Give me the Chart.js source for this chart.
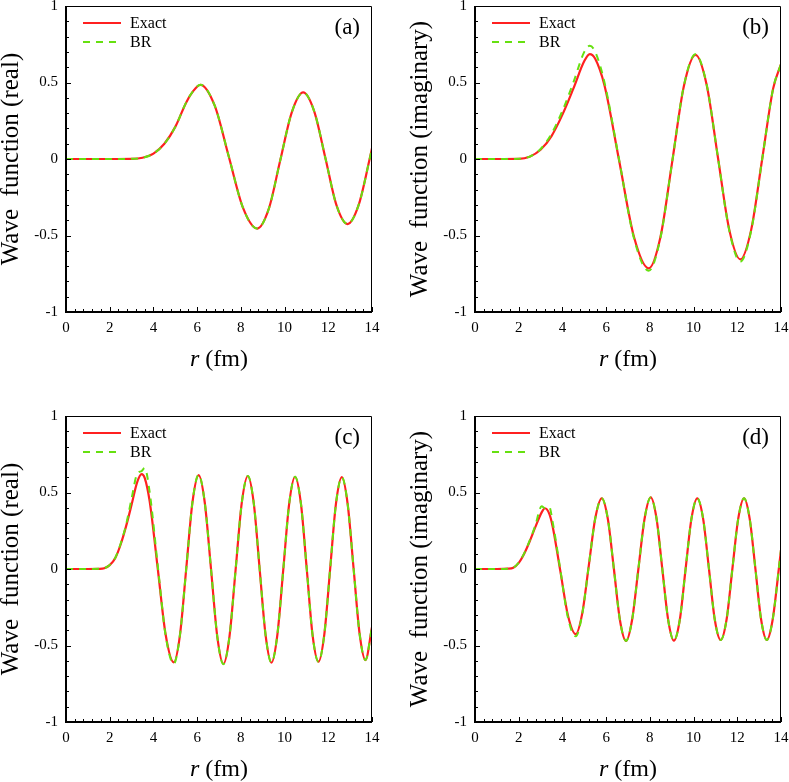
<!DOCTYPE html>
<html>
<head>
<meta charset="utf-8">
<script src="https://cdn.jsdelivr.net/npm/chart.js@4.4.1/dist/chart.umd.min.js"></script>
<style>
  body { margin: 0; background: #fff; width: 789px; height: 782px; position: relative; overflow: hidden; }
  .panel { position: absolute; width: 380px; height: 372px; }
</style>
</head>
<body>
<div class="panel" style="left:0;top:0"><canvas id="pa"></canvas></div>
<div class="panel" style="left:409px;top:0"><canvas id="pb"></canvas></div>
<div class="panel" style="left:0;top:410px"><canvas id="pc"></canvas></div>
<div class="panel" style="left:409px;top:410px"><canvas id="pd"></canvas></div>
<script>
// axis ticks
const xTicks = [0, 2, 4, 6, 8, 10, 12, 14];
const xTickLabels = ['0', '2', '4', '6', '8', '10', '12', '14'];
const yTicks = [-1, -0.5, 0, 0.5, 1];
const yTickLabels = ['-1', '-0.5', '0', '0.5', '1'];

// (a) real part, lower energy
const rA = [0, 1, 2, 3, 3.5, 4, 4.5, 5, 5.5, 5.8, 6.15, 6.8, 7.45, 8.1, 8.75, 9.28, 9.8, 10.33, 10.85, 11.36, 11.87, 12.37, 12.88, 13.39, 13.9, 14];
const exactA = [0, 0, 0, 0.001, 0.008, 0.035, 0.10, 0.21, 0.37, 0.44, 0.485, 0.35, 0.015, -0.32, -0.455, -0.325, -0.01, 0.305, 0.435, 0.31, 0.005, -0.30, -0.425, -0.30, 0.005, 0.07];
const brA = [0, 0, 0, 0.001, 0.008, 0.035, 0.10, 0.21, 0.37, 0.44, 0.485, 0.35, 0.015, -0.32, -0.455, -0.325, -0.01, 0.305, 0.435, 0.31, 0.005, -0.30, -0.425, -0.30, 0.005, 0.07];

// (b) imaginary part, lower energy
const rB = [0, 1, 2, 2.5, 3, 3.5, 4, 4.5, 5, 5.25, 5.5, 5.925, 6.6, 7.275, 7.95, 8.485, 9.02, 9.555, 10.09, 10.6, 11.115, 11.63, 12.14, 12.64, 13.14, 13.64, 14];
const exactB = [0, 0, 0.001, 0.015, 0.06, 0.15, 0.29, 0.46, 0.64, 0.686, 0.655, 0.48, -0.015, -0.51, -0.715, -0.51, -0.02, 0.475, 0.68, 0.484, 0.01, -0.46, -0.656, -0.46, 0.0, 0.46, 0.62];
const brB = [0, 0, 0.001, 0.016, 0.065, 0.165, 0.315, 0.50, 0.70, 0.74, 0.70, 0.50, -0.01, -0.52, -0.73, -0.515, -0.02, 0.478, 0.685, 0.486, 0.01, -0.465, -0.67, -0.465, 0.0, 0.46, 0.62];

// (c) real part, higher energy
const rC = [0, 1, 1.5, 1.75, 2, 2.25, 2.5, 2.75, 3, 3.25, 3.46, 3.6, 3.83, 4.2, 4.56, 4.93, 5.215, 5.5, 5.785, 6.07, 6.35, 6.635, 6.92, 7.2, 7.48, 7.76, 8.04, 8.32, 8.59, 8.86, 9.13, 9.4, 9.67, 9.94, 10.21, 10.48, 10.75, 11.015, 11.28, 11.55, 11.82, 12.085, 12.35, 12.62, 12.89, 13.16, 13.43, 13.7, 14];
const exactC = [0, 0, 0.001, 0.005, 0.025, 0.07, 0.16, 0.28, 0.42, 0.565, 0.62, 0.595, 0.44, 0.0, -0.43, -0.61, -0.43, 0.0, 0.435, 0.614, 0.433, 0.0, -0.44, -0.62, -0.44, -0.005, 0.43, 0.608, 0.43, 0.0, -0.43, -0.612, -0.43, -0.005, 0.425, 0.603, 0.425, 0.0, -0.43, -0.606, -0.425, 0.0, 0.425, 0.60, 0.42, 0.0, -0.42, -0.595, -0.38];
const brC = [0, 0, 0.001, 0.005, 0.026, 0.072, 0.165, 0.29, 0.46, 0.62, 0.64, 0.66, 0.50, 0.02, -0.435, -0.62, -0.43, 0.0, 0.435, 0.616, 0.433, 0.0, -0.44, -0.622, -0.44, -0.005, 0.43, 0.608, 0.43, 0.0, -0.43, -0.612, -0.43, -0.005, 0.425, 0.603, 0.425, 0.0, -0.43, -0.606, -0.425, 0.0, 0.425, 0.60, 0.42, 0.0, -0.42, -0.595, -0.38];

// (d) imaginary part, higher energy
const rD = [0, 1, 1.5, 1.75, 2, 2.25, 2.5, 2.75, 3.05, 3.2, 3.4, 3.55, 3.905, 4.255, 4.61, 4.9, 5.205, 5.5, 5.8, 6.08, 6.355, 6.63, 6.91, 7.19, 7.475, 7.76, 8.04, 8.305, 8.57, 8.835, 9.1, 9.37, 9.635, 9.9, 10.17, 10.44, 10.705, 10.97, 11.24, 11.51, 11.775, 12.04, 12.31, 12.57, 12.83, 13.09, 13.35, 13.62, 13.9, 14];
const exactD = [0, 0, 0.002, 0.008, 0.04, 0.10, 0.18, 0.27, 0.37, 0.397, 0.36, 0.28, -0.014, -0.305, -0.425, -0.295, 0.02, 0.33, 0.462, 0.325, 0.0, -0.333, -0.47, -0.33, 0.0, 0.33, 0.468, 0.33, 0.0, -0.33, -0.468, -0.332, 0.0, 0.326, 0.462, 0.326, 0.0, -0.33, -0.464, -0.33, 0.0, 0.326, 0.462, 0.326, 0.0, -0.33, -0.464, -0.33, 0.0, 0.125];
const brD = [0, 0, 0.002, 0.008, 0.041, 0.102, 0.185, 0.28, 0.41, 0.398, 0.405, 0.31, -0.005, -0.32, -0.44, -0.30, 0.02, 0.33, 0.462, 0.325, 0.0, -0.333, -0.47, -0.33, 0.0, 0.33, 0.468, 0.33, 0.0, -0.33, -0.468, -0.332, 0.0, 0.326, 0.462, 0.326, 0.0, -0.33, -0.464, -0.33, 0.0, 0.326, 0.462, 0.326, 0.0, -0.33, -0.464, -0.33, 0.0, 0.125];

const SERIF = "'Liberation Serif', 'Times New Roman', serif";
const RED = '#ff2020';
const GREEN = '#66e010';
const DASH = [7, 6];

// frame, inner ticks, legend, panel tag and axis titles
const decor = {
    id: 'decor',
    afterDraw(chart, args, opts) {
        const { ctx, chartArea: a, scales: { x, y } } = chart;
        ctx.save();
        ctx.strokeStyle = '#000';
        ctx.fillStyle = '#000';

        ctx.lineWidth = 1;
        ctx.beginPath();
        ctx.moveTo(a.left, a.top + 0.5);
        ctx.lineTo(a.right - 0.5, a.top + 0.5);
        ctx.lineTo(a.right - 0.5, a.bottom);
        ctx.stroke();
        ctx.lineWidth = 2;
        ctx.beginPath();
        ctx.moveTo(a.left, a.top);
        ctx.lineTo(a.left, a.bottom);
        ctx.lineTo(a.right, a.bottom);
        ctx.stroke();

        ctx.lineWidth = 1;
        ctx.beginPath();
        for (let i = 0; i <= 35; i++) {
            const px = Math.round(x.getPixelForValue(i * 0.4)) + 0.5;
            ctx.moveTo(px, a.bottom);
            ctx.lineTo(px, a.bottom - (i % 5 ? 3 : 5));
        }
        for (let i = 0; i <= 20; i++) {
            const py = Math.round(y.getPixelForValue(-1 + i * 0.1)) + 0.5;
            ctx.moveTo(a.left, py);
            ctx.lineTo(a.left + (i % 5 ? 3 : 5), py);
        }
        ctx.stroke();

        // legend
        const ds = chart.data.datasets;
        ctx.lineWidth = 2;
        ctx.strokeStyle = RED;
        ctx.beginPath();
        ctx.moveTo(a.left + 17, a.top + 17);
        ctx.lineTo(a.left + 55, a.top + 17);
        ctx.stroke();
        ctx.strokeStyle = GREEN;
        ctx.setLineDash(DASH);
        ctx.beginPath();
        ctx.moveTo(a.left + 17, a.top + 36);
        ctx.lineTo(a.left + 55, a.top + 36);
        ctx.stroke();
        ctx.setLineDash([]);
        ctx.font = `16px ${SERIF}`;
        ctx.textBaseline = 'middle';
        ctx.textAlign = 'left';
        ctx.fillText(ds[1].label, a.left + 64, a.top + 18);
        ctx.fillText(ds[0].label, a.left + 64, a.top + 37);

        ctx.font = `23px ${SERIF}`;
        ctx.textAlign = 'right';
        ctx.fillText(opts.tag, a.right - 12, a.top + 22);

        // y title
        ctx.save();
        ctx.translate(11, (a.top + a.bottom) / 2);
        ctx.rotate(-Math.PI / 2);
        ctx.textAlign = 'center';
        ctx.font = `25px ${SERIF}`;
        ctx.fillText(opts.yTitle, 0, 0);
        ctx.restore();

        // x title: italic r + (fm)
        ctx.textBaseline = 'alphabetic';
        ctx.textAlign = 'left';
        ctx.font = `italic 24px ${SERIF}`;
        const w1 = ctx.measureText('r').width;
        ctx.font = `24px ${SERIF}`;
        const w2 = ctx.measureText(' (fm)').width;
        const x0 = (a.left + a.right) / 2 - (w1 + w2) / 2;
        const base = a.bottom + 54;
        ctx.font = `italic 24px ${SERIF}`;
        ctx.fillText('r', x0, base);
        ctx.font = `24px ${SERIF}`;
        ctx.fillText(' (fm)', x0 + w1, base);
        ctx.restore();
    }
};

function makePanel(id, r, exact, br, tag, yTitle) {
    const ctx = document.getElementById(id).getContext('2d');
    return new Chart(ctx, {
        type: 'line',
        data: {
            datasets: [
                {
                    label: 'BR',
                    data: r.map((v, i) => ({ x: v, y: br[i] })),
                    borderColor: GREEN,
                    borderWidth: 2,
                    borderDash: DASH,
                    pointRadius: 0,
                    cubicInterpolationMode: 'monotone',
                    fill: false,
                    order: 1,
                },
                {
                    label: 'Exact',
                    data: r.map((v, i) => ({ x: v, y: exact[i] })),
                    borderColor: RED,
                    borderWidth: 2.2,
                    pointRadius: 0,
                    cubicInterpolationMode: 'monotone',
                    fill: false,
                    order: 2,
                }
            ]
        },
        options: {
            responsive: true,
            maintainAspectRatio: false,
            animation: false,
            events: [],
            layout: { padding: { top: 6, right: 8, bottom: 0, left: 0 } },
            plugins: {
                legend: { display: false },
                tooltip: { enabled: false },
                decor: { tag, yTitle }
            },
            scales: {
                x: {
                    type: 'linear',
                    min: 0,
                    max: 14,
                    afterBuildTicks: s => { s.ticks = xTicks.map(v => ({ value: v })); },
                    afterFit: s => { s.height = 60; s.paddingLeft = 0; s.paddingRight = 0; },
                    grid: { display: false, drawTicks: false },
                    border: { display: false },
                    ticks: {
                        autoSkip: false,
                        maxRotation: 0,
                        padding: 7,
                        color: '#000',
                        font: { family: SERIF, size: 15 },
                        callback: (v, i) => xTickLabels[i]
                    }
                },
                y: {
                    min: -1,
                    max: 1,
                    afterBuildTicks: s => { s.ticks = yTicks.map(v => ({ value: v })); },
                    afterFit: s => { s.width = 66; s.paddingTop = 0; s.paddingBottom = 0; },
                    grid: { display: false, drawTicks: false },
                    border: { display: false },
                    ticks: {
                        autoSkip: false,
                        padding: 8,
                        color: '#000',
                        font: { family: SERIF, size: 15 },
                        callback: (v, i) => yTickLabels[i]
                    }
                }
            }
        },
        plugins: [decor]
    });
}

makePanel('pa', rA, exactA, brA, '(a)', 'Wave  function (real)');
makePanel('pb', rB, exactB, brB, '(b)', 'Wave  function (imaginary)');
makePanel('pc', rC, exactC, brC, '(c)', 'Wave  function (real)');
makePanel('pd', rD, exactD, brD, '(d)', 'Wave  function (imaginary)');
</script>
</body>
</html>
